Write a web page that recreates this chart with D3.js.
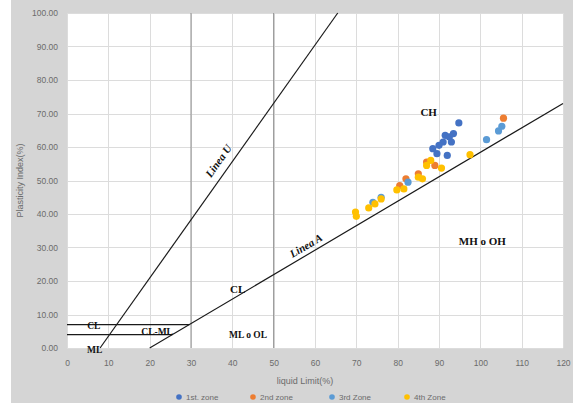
<!DOCTYPE html>
<meta charset="utf-8">

<head>
    <style>
        body {
            margin: 0;
            background: #fff;
        }

        .axis text {
            font: 8.5px "Liberation Sans", sans-serif;
            fill: #6b6b6b;
        }

        .axis path,
        .axis line {
            display: none;
        }

        .grid line {
            stroke: #dcdcdc;
            stroke-width: 1px;
            shape-rendering: crispEdges;
        }

        .zone {
            font: bold 11px "Liberation Serif", serif;
            fill: #111;
        }

        .linea {
            font: italic bold 11px "Liberation Serif", serif;
            fill: #111;
        }

        .title {
            font: 9px "Liberation Sans", sans-serif;
            fill: #6b6b6b;
        }

        .legend text {
            font: 8px "Liberation Sans", sans-serif;
            fill: #6b6b6b;
        }
    </style>
</head>

<body>

<script src="https://d3js.org/d3.v7.min.js"></script>

<script>

    // tick values
    var xTicks = [0, 10, 20, 30, 40, 50, 60, 70, 80, 90, 100, 110, 120];
    var yTicks = [0, 10, 20, 30, 40, 50, 60, 70, 80, 90, 100];

    // reference lines of the plasticity chart [LL, PI]
    var lineaA = [[20, 0], [120, 73]];
    var lineaU = [[8, 0], [65.5, 100]];
    var clLine = [[0, 7], [29.6, 7]];
    var mlLine = [[0, 4], [25.5, 4]];
    var boundaries = [30, 50];

    // samples [liquid limit, plasticity index]
    var zone1 = [[88.5, 59.5], [89.5, 58], [91, 61.5], [91.5, 63.5], [92.5, 63], [93, 61.5],
        [94.8, 67.2], [92, 57.5], [90, 60.5], [93.5, 64]];
    var zone2 = [[80.5, 48.5], [82, 50.5], [85, 52], [87, 55.5], [89, 54.5], [105.6, 68.6]];
    var zone3 = [[74, 43.5], [76, 45], [82.5, 49.5], [101.5, 62.2], [104.4, 64.8], [105.2, 66.2]];
    var zone4 = [[69.8, 40.6], [70, 39.3], [73, 41.8], [74.5, 43], [76, 44.5], [79.8, 47.2],
        [81.5, 47.5], [85, 51], [86, 50.5], [87, 54.5], [88, 56], [90.6, 53.7], [97.5, 57.7]];

    var seriesNames = ["1st. zone", "2nd zone", "3rd Zone", "4th Zone"];
    var seriesColors = ["#4472c4", "#ed7d31", "#5b9bd5", "#ffc000"];
    var series = [zone1, zone2, zone3, zone4];

    var labels = [
        {text: "CH", x: 87.5, y: 70.5},
        {text: "MH o OH", x: 100.5, y: 31.8},
        {text: "CL", x: 41.3, y: 17.7},
        {text: "ML o OL", x: 43.8, y: 3.9},
        {text: "CL", x: 6.5, y: 6.6},
        {text: "CL-ML", x: 21.8, y: 4.8},
        {text: "ML", x: 6.7, y: -0.5}
    ];

    var W = 573, H = 409;
    var margin = {top: 13, right: 10, bottom: 61, left: 67},
        width = 563 - margin.left,
        height = 348 - margin.top;

    var x = d3.scaleLinear().domain([0, 120]).range([0, width]);
    var y = d3.scaleLinear().domain([0, 100]).range([height, 0]);

    var svg0 = d3.select("body").append("svg")
        .attr("width", W)
        .attr("height", H);

    // grey chart area
    svg0.append("rect")
        .attr("x", 11).attr("y", 0)
        .attr("width", W - 11).attr("height", 403)
        .attr("fill", "#d5d5d5");

    var svg = svg0.append("g")
        .attr("transform", "translate(" + margin.left + "," + margin.top + ")");

    svg.append("rect")
        .attr("width", width)
        .attr("height", height)
        .attr("fill", "#fff");

    // gridlines
    svg.append("g")
        .attr("class", "grid")
        .selectAll("line")
        .data(yTicks)
        .enter().append("line")
        .attr("x1", 0).attr("x2", width)
        .attr("y1", function (d) { return Math.round(y(d)) + 0.5; })
        .attr("y2", function (d) { return Math.round(y(d)) + 0.5; });

    svg.append("g")
        .attr("class", "grid")
        .selectAll("line")
        .data(xTicks)
        .enter().append("line")
        .attr("y1", 0).attr("y2", height)
        .attr("x1", function (d) { return Math.round(x(d)) + 0.5; })
        .attr("x2", function (d) { return Math.round(x(d)) + 0.5; });

    // LL = 30 and LL = 50
    svg.selectAll(".bound")
        .data(boundaries)
        .enter().append("line")
        .attr("class", "bound")
        .attr("y1", 0).attr("y2", height)
        .attr("x1", function (d) { return x(d); })
        .attr("x2", function (d) { return x(d); })
        .attr("stroke", "#8c8c8c")
        .attr("stroke-width", 1);

    // axes
    svg.append("g")
        .attr("class", "axis")
        .attr("transform", "translate(0," + height + ")")
        .call(d3.axisBottom(x).tickValues(xTicks).tickSize(0).tickPadding(12));

    svg.append("g")
        .attr("class", "axis")
        .call(d3.axisLeft(y).tickValues(yTicks).tickSize(0).tickPadding(9)
            .tickFormat(d3.format(".2f")));

    var line = d3.line()
        .x(function (d) { return x(d[0]); })
        .y(function (d) { return y(d[1]); });

    [lineaA, lineaU, clLine, mlLine].forEach(function (l) {
        svg.append("path")
            .datum(l)
            .attr("d", line)
            .attr("fill", "none")
            .attr("stroke", "#1a1a1a")
            .attr("stroke-width", 1.2);
    });

    // line names along the lines
    function angle(l) {
        return Math.atan2(y(l[1][1]) - y(l[0][1]), x(l[1][0]) - x(l[0][0])) * 180 / Math.PI;
    }

    svg.append("text")
        .attr("class", "linea")
        .attr("text-anchor", "middle")
        .attr("transform", "translate(" + x(37.4) + "," + y(55.2) + ") rotate(" + angle(lineaU) + ")")
        .text("Linea U");

    svg.append("text")
        .attr("class", "linea")
        .attr("text-anchor", "middle")
        .attr("transform", "translate(" + x(58.3) + "," + y(29.6) + ") rotate(" + angle(lineaA) + ")")
        .text("Linea A");

    svg.selectAll(".zone")
        .data(labels)
        .enter().append("text")
        .attr("class", "zone")
        .attr("text-anchor", "middle")
        .attr("x", function (d) { return x(d.x); })
        .attr("y", function (d) { return y(d.y); })
        .attr("dy", "0.35em")
        .style("font-size", function (d) { return d.y < 10 ? "9.5px" : "11px"; })
        .text(function (d) { return d.text; });

    // points
    series.forEach(function (s, i) {
        svg.append("g")
            .selectAll("circle")
            .data(s)
            .enter().append("circle")
            .attr("cx", function (d) { return x(d[0]); })
            .attr("cy", function (d) { return y(d[1]); })
            .attr("r", 3.6)
            .attr("fill", seriesColors[i]);
    });

    // axis titles
    svg0.append("text")
        .attr("class", "title")
        .attr("text-anchor", "middle")
        .attr("x", 305).attr("y", 384)
        .text("liquid Limit(%)");

    svg0.append("text")
        .attr("class", "title")
        .attr("text-anchor", "middle")
        .attr("transform", "translate(23," + (margin.top + height / 2) + ") rotate(-90)")
        .text("Plasticity Index(%)");

    // legend
    var legendX = [179, 253, 332, 407];
    var legend = svg0.append("g")
        .attr("class", "legend")
        .selectAll("g")
        .data(seriesNames)
        .enter().append("g")
        .attr("transform", function (d, i) { return "translate(" + legendX[i] + ",397)"; });

    legend.append("circle")
        .attr("r", 2.8)
        .attr("fill", function (d, i) { return seriesColors[i]; });

    legend.append("text")
        .attr("x", 7)
        .attr("dy", "0.35em")
        .text(function (d) { return d; });

</script>

</body>
